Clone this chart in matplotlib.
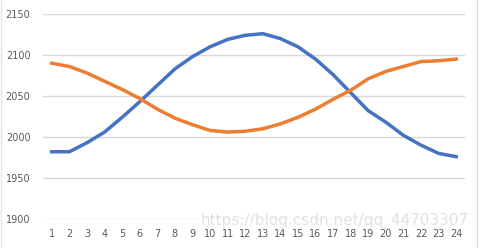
import numpy as np
import matplotlib.pyplot as plt
from matplotlib.lines import Line2D

# hours 1..24
hours = list(range(1, 25))
# blue series
blue_vals = [1982, 1982, 1993, 2006, 2024, 2043, 2063, 2083, 2098, 2110,
             2119, 2124, 2126, 2120, 2110, 2095, 2076, 2054, 2032, 2018,
             2002, 1990, 1980, 1976]
# orange series
orange_vals = [2090, 2086, 2078, 2068, 2058, 2047, 2034, 2023, 2015, 2008,
               2006, 2007, 2010, 2016, 2024, 2034, 2046, 2057, 2071, 2080,
               2086, 2092, 2093, 2095]
yticks = [1900, 1950, 2000, 2050, 2100, 2150]

fig = plt.figure(figsize=(4.81, 2.48), dpi=100)
ax = fig.add_axes([43/481, 1 - 219/248, (465 - 43)/481, (219 - 14)/248])

ax.plot(hours, blue_vals, color='#4472C4', lw=2.5, solid_joinstyle='round', zorder=3)
ax.plot(hours, orange_vals, color='#ED7D31', lw=2.5, solid_joinstyle='round', zorder=3)

ax.set_xlim(0.5, 24.5)
ax.set_ylim(1900, 2150)
ax.set_yticks(yticks)
ax.set_xticks(hours)
ax.grid(axis='y', color='#D9D9D9', lw=1)
ax.set_axisbelow(True)
for s in ax.spines.values():
    s.set_visible(False)
ax.tick_params(length=0, labelsize=7, labelcolor='#595959')
ax.tick_params(axis='y', pad=9)
ax.tick_params(axis='x', pad=7)

# chart frame edges
fig.add_artist(Line2D([477/481, 477/481], [0, 1], color='#D9D9D9', lw=1))
fig.add_artist(Line2D([1/481, 1/481], [0, 1], color='#E6E6E6', lw=1))

# watermark (kept just above the tick labels)
fig.text(0.975, 1 - 229/248, 'https://blog.csdn.net/qq_44703307', ha='right', va='bottom',
         fontsize=11, color='#D0D0D0', alpha=0.6)

plt.savefig('out.png', dpi=100)
